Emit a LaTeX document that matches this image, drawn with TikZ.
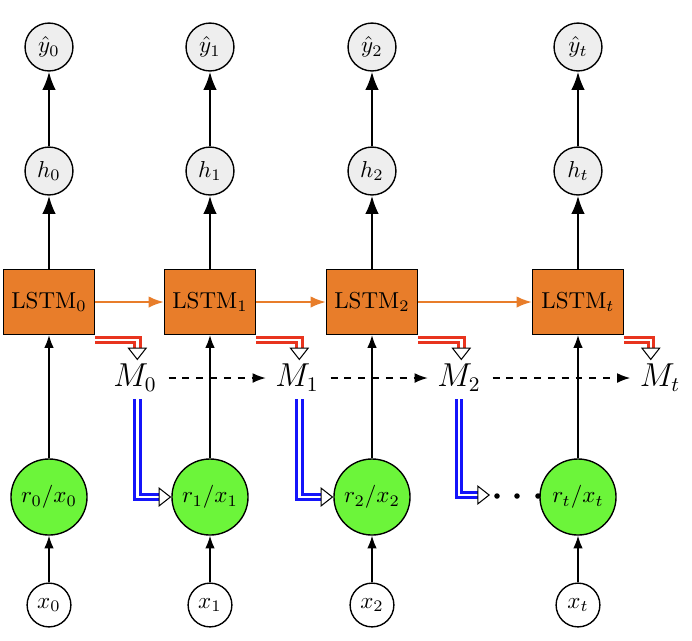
\documentclass[tikz,border=0pt]{standalone}
\usepackage{amsmath}
\usepackage{amssymb}
\usepackage{tikz}
\usetikzlibrary{positioning, calc, arrows.meta}
\definecolor{cell}{RGB}{232,125,42}
\definecolor{readin}{RGB}{108,245,58}
\definecolor{outgray}{RGB}{238,238,238}
\definecolor{memwrite}{RGB}{232,52,30}
\definecolor{memread}{RGB}{20,20,250}

\begin{document}
\begin{tikzpicture}[x=0.434pt, y=-0.434pt, >=Latex,
    outnode/.style={draw, circle, line width=0.6pt, fill=outgray, minimum size=20.8pt, inner sep=0pt},
    cellbox/.style={draw, line width=0.6pt, fill=cell, minimum width=39.5pt, minimum height=28.2pt, inner sep=0pt},
    readnode/.style={draw, circle, line width=0.6pt, fill=readin, minimum size=33pt, inner sep=0pt},
    innode/.style={draw, circle, line width=0.6pt, fill=white, minimum size=19pt, inner sep=0pt},
    memlabel/.style={font=\fontsize{13.5}{15}\selectfont, inner sep=1pt},
    thickarrow/.style={->, line width=1.1pt},
    thinarrow/.style={->, line width=0.55pt},
    writearrow/.style={draw=memwrite, double=white, double distance=1.1pt, line width=1.3pt, -{Triangle[black, fill=white, length=5.5pt, width=8.5pt, line width=0.45pt]}},
    readarrow/.style={draw=memread, double=white, double distance=1.1pt, line width=1.3pt, -{Triangle[black, fill=white, length=5.5pt, width=8.5pt, line width=0.45pt]}}]
    \useasboundingbox (0,0) rectangle (692,640);

    % columns: output, hidden, cell, read input, input
    \foreach \n/\x in {0/49, 1/210, 2/372, t/578} {
      \node[outnode] (Y\n) at (\x,47) {$\hat{y}_\n$};
      \node[outnode] (H\n) at (\x,171) {$h_\n$};
      \node[cellbox] (L\n) at (\x,302) {LSTM$_\n$};
      \node[readnode] (R\n) at (\x,497) {$r_\n/x_\n$};
      \node[innode] (X\n) at (\x,605) {$x_\n$};
      \draw[thickarrow] (H\n) -- (Y\n);
      \draw[thickarrow] (L\n) -- (H\n);
      \draw[thinarrow] (R\n) -- (L\n);
      \draw[thinarrow] (X\n) -- (R\n);
    }

    % memory states
    \node[memlabel] (M0) at (135,378) {$M_0$};
    \node[memlabel] (M1) at (297,378) {$M_1$};
    \node[memlabel] (M2) at (459,378) {$M_2$};
    \node[memlabel] (Mt) at (660,378) {$M_t$};

    % recurrence between cells
    \draw[->, color=cell, line width=0.8pt] (L0) -- (L1);
    \draw[->, color=cell, line width=0.8pt] (L1) -- (L2);
    \draw[->, color=cell, line width=0.8pt] (L2) -- (Lt);

    % memory updates
    \draw[->, dashed, line width=0.6pt, shorten <=4pt, shorten >=3pt] (M0) -- (M1);
    \draw[->, dashed, line width=0.6pt, shorten <=4pt, shorten >=3pt] (M1) -- (M2);
    \draw[->, dashed, line width=0.6pt, shorten <=4pt, shorten >=3pt] (M2) -- (Mt);

    % writes
    \draw[writearrow] ($(L0.south east)+(0,-2pt)$) -| ($(M0.north)+(1pt,0.5pt)$);
    \draw[writearrow] ($(L1.south east)+(0,-2pt)$) -| ($(M1.north)+(1pt,0.5pt)$);
    \draw[writearrow] ($(L2.south east)+(0,-2pt)$) -| ($(M2.north)+(1pt,0.5pt)$);
    \draw[writearrow] ($(Lt.south east)+(0,-2pt)$) -| ($(Mt.north)+(-4pt,0.5pt)$);

    % reads
    \coordinate (dots) at (490,495);
    \draw[readarrow] ($(M0.south)+(1pt,-2pt)$) |- (R1.west);
    \draw[readarrow] ($(M1.south)+(1pt,-2pt)$) |- (R2.west);
    \draw[readarrow] ($(M2.south)+(0pt,-2pt)$) |- (dots);
    \foreach \d in {497, 517, 538}
      \fill (\d,496) circle (1.2pt);
\end{tikzpicture}
\end{document}
